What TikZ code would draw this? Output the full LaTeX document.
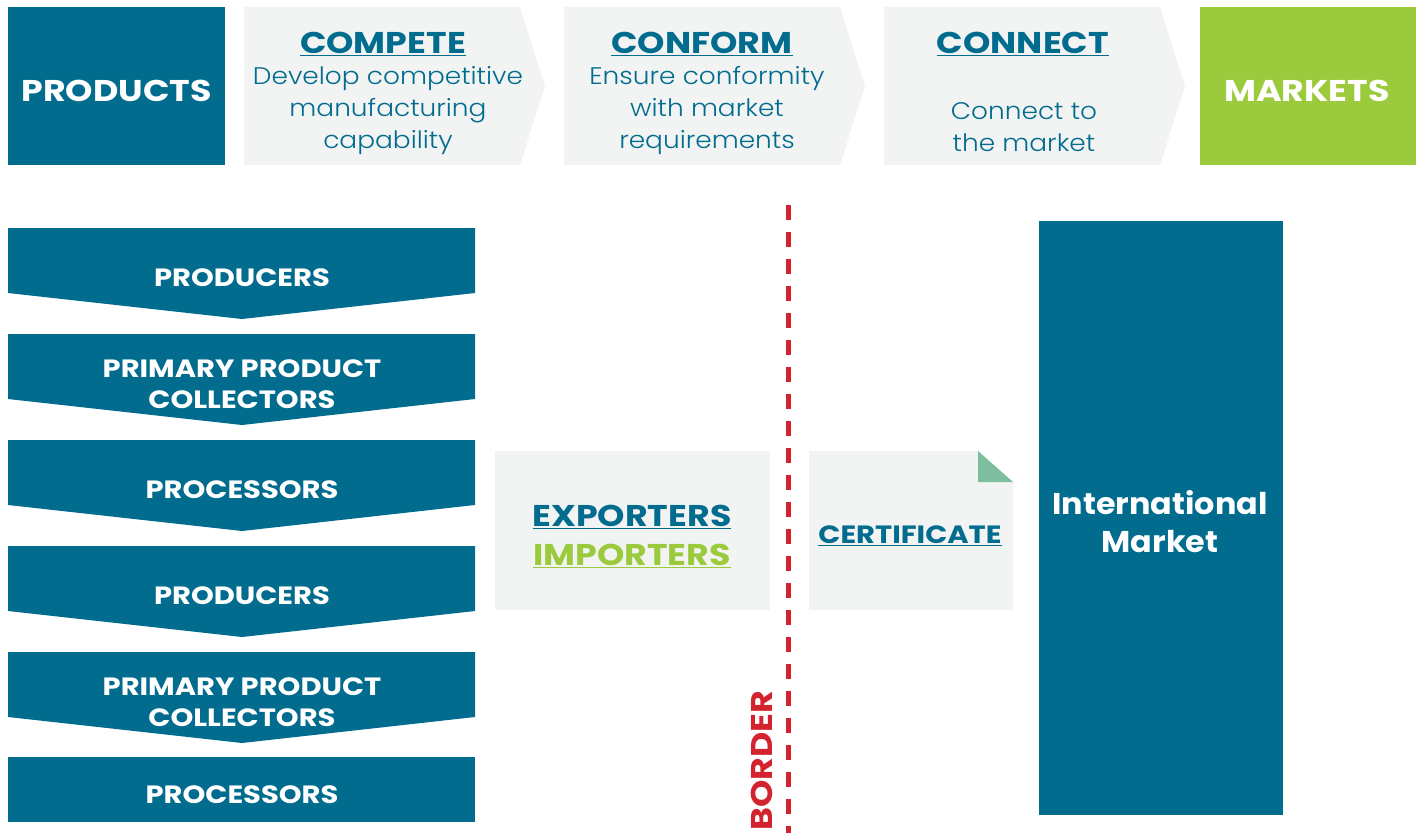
\documentclass[tikz,border=0pt]{standalone}
\usepackage{fontspec}
\setmainfont{Poppins}
\newfontfamily\wideb{Poppins}[FakeStretch=1.16]
\newfontfamily\widec{Poppins}[FakeStretch=1.06]
\newfontfamily\lightf{Poppins Light}[FakeStretch=1.10]
\definecolor{tealc}{HTML}{026C8F}
\definecolor{greenc}{HTML}{9BCB3C}
\definecolor{greyc}{HTML}{F2F3F3}
\definecolor{redc}{HTML}{D3232E}
\definecolor{leafc}{HTML}{7DBE9F}
\tikzset{
  bigwhite/.style={text=white, font=\wideb\bfseries\fontsize{30}{36}\selectfont, align=center, inner sep=0pt},
  headtxt/.style={text=tealc, font=\wideb\bfseries\fontsize{30}{34}\selectfont, inner sep=0pt},
  subtxt/.style={text=tealc, font=\lightf\fontsize{24}{32}\selectfont, align=center, inner sep=0pt},
  chevtxt/.style={text=white, font=\wideb\bfseries\fontsize{25}{31}\selectfont, align=center, inner sep=0pt},
  stagebox/.style={fill=greyc},
  darkbox/.style={fill=tealc},
}
\begin{document}
\begin{tikzpicture}[x=1pt,y=-1pt]
\useasboundingbox (0,0) rectangle (1424,833);
% top row
\fill[darkbox] (8,7) rectangle (225,165);
\node[bigwhite] (products) at (116.5,91) {PRODUCTS};
\foreach \x/\nm in {244/compete,564/conform,884/connect}{
  \fill[stagebox] (\x,7) -- (\x+276,7) -- (\x+301,86) -- (\x+276,165) -- (\x,165) -- cycle;
}
\node[headtxt] (competeh) at (383,44) {\underline{COMPETE}};
\node[subtxt] (competet) at (388,111) {Develop competitive\\manufacturing\\capability};
\node[headtxt] (conformh) at (702,44) {\underline{CONFORM}};
\node[subtxt] (conformt) at (707,111) {Ensure conformity\\with market\\requirements};
\node[headtxt] (connecth) at (1023,44) {\underline{CONNECT}};
\node[subtxt] (connectt) at (1024,127) {Connect to\\the market};
\fill[greenc] (1200,7) rectangle (1416,165);
\node[bigwhite] (markets) at (1307,91) {MARKETS};
% left chevrons
\foreach \i/\y/\t in {1/228/PRODUCERS,2/334/PRIMARY PRODUCT\\COLLECTORS,3/440/PROCESSORS,4/546/PRODUCERS,5/652/PRIMARY PRODUCT\\COLLECTORS}{
  \fill[darkbox] (8,\y) -- (475,\y) -- (475,\y+65) -- (242,\y+91) -- (8,\y+65) -- cycle;
  \node[chevtxt] (chev\i) at (242,\y+50) {\t};
}
\fill[darkbox] (8,757) rectangle (475,822);
\node[chevtxt] (chev6) at (242,795) {PROCESSORS};
% exporters
\fill[stagebox] (495,451) rectangle (770,610);
\node[headtxt] (exporters) at (632,517) {\underline{EXPORTERS}};
\node[headtxt, text=greenc] (importers) at (632,556) {\underline{IMPORTERS}};
% border
\draw[redc, line width=5, dash pattern=on 15 off 12] (788,205) coordinate (bordertop) -- (788,833) coordinate (borderbot);
\node[text=redc, font=\wideb\bfseries\fontsize{30}{36}\selectfont, rotate=90, inner sep=0pt] (border) at (762,761) {BORDER};
% certificate
\fill[stagebox] (809,451) -- (978,451) -- (1013,482) -- (1013,610) -- (809,610) -- cycle;
\fill[leafc] (978,451) -- (1013,482) -- (978,482) -- cycle;
\node[headtxt, font=\wideb\bfseries\fontsize{25}{31}\selectfont] (certificate) at (910,536) {\underline{CERTIFICATE}};
% international market
\fill[darkbox] (1039,221) rectangle (1283,815);
\node[bigwhite, font=\widec\bfseries\fontsize{30}{38}\selectfont] (intl) at (1160,522) {International\\Market};
\end{tikzpicture}
\end{document}
